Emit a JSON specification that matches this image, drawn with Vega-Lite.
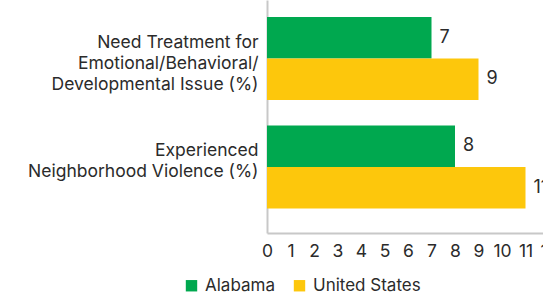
{
  "$schema": "https://vega.github.io/schema/vega-lite/v6.json",
  "width": 282,
  "height": 233,
  "autosize": {"type": "none"},
  "padding": {"left": 267, "top": 0, "right": 0, "bottom": 63},
  "background": "white",
  "config": {
    "view": {"stroke": null},
    "font": "Inter",
    "text": {"font": "Inter"}
  },
  "data": {
    "values": [
      {"measure": "Need Treatment for|Emotional/Behavioral/|Developmental Issue (%)", "region": "Alabama", "value": 7},
      {"measure": "Need Treatment for|Emotional/Behavioral/|Developmental Issue (%)", "region": "United States", "value": 9},
      {"measure": "Experienced|Neighborhood Violence (%)", "region": "Alabama", "value": 8},
      {"measure": "Experienced|Neighborhood Violence (%)", "region": "United States", "value": 11}
    ]
  },
  "encoding": {
    "y": {
      "field": "measure",
      "type": "nominal",
      "sort": null,
      "title": null,
      "scale": {"paddingInner": 0.235, "paddingOuter": 0.191, "align": 0.41},
      "axis": {
        "labelExpr": "split(datum.label, '|')",
        "labelLineHeight": 21,
        "labelFontSize": 17.5,
        "labelColor": "#2b2b2b",
        "labelFont": "Inter",
        "labelPadding": 9,
        "labelOffset": -16,
        "ticks": false,
        "domainColor": "#c8c8c8",
        "domainWidth": 2,
        "labelLimit": 300
      }
    },
    "yOffset": {"field": "region", "type": "nominal", "scale": {"paddingInner": 0, "paddingOuter": 0}},
    "x": {
      "field": "value",
      "type": "quantitative",
      "title": null,
      "scale": {"domain": [0, 12], "nice": false},
      "axis": {
        "values": [0,1,2,3,4,5,6,7,8,9,10,11,12],
        "grid": false,
        "ticks": false,
        "labelFontSize": 17.5,
        "labelColor": "#2b2b2b",
        "labelFont": "Inter",
        "labelPadding": 9,
        "domainColor": "#c8c8c8",
        "domainWidth": 2,
        "labelFlush": false,
        "labelOverlap": false
      }
    }
  },
  "layer": [
    {
      "mark": {"type": "bar"},
      "encoding": {
        "color": {
          "field": "region",
          "type": "nominal",
          "title": null,
          "scale": {"domain": ["Alabama", "United States"], "range": ["#00a84f", "#fdc70c"]},
          "legend": {
            "orient": "none",
            "legendX": -84,
            "legendY": 277,
            "direction": "horizontal",
            "symbolType": "square",
            "symbolSize": 130,
            "symbolStrokeWidth": 0,
            "labelFontSize": 17,
            "labelFont": "Inter",
            "labelColor": "#2b2b2b",
            "columnPadding": 16,
            "labelOffset": 5
          }
        }
      }
    },
    {
      "mark": {"type": "text", "align": "left", "dx": 8, "fontSize": 18, "color": "#2b2b2b"},
      "encoding": {"text": {"field": "value", "type": "quantitative"}}
    }
  ]
}
